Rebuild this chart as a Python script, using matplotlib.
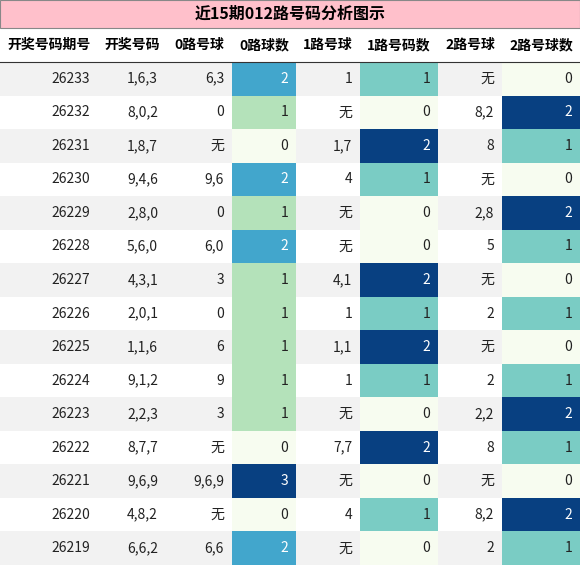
import matplotlib
matplotlib.use("Agg")
import matplotlib.pyplot as plt
from matplotlib.patches import Rectangle
from matplotlib import cm
from matplotlib.colors import Normalize

plt.rcParams['font.family'] = ['Noto Sans CJK SC', 'DejaVu Sans']

title = "近15期012路号码分析图示"
headers = ["开奖号码期号", "开奖号码", "0路号球", "0路球数", "1路号球", "1路号码数", "2路号球", "2路号球数"]
periods = ["26233","26232","26231","26230","26229","26228","26227","26226","26225","26224","26223","26222","26221","26220","26219"]
draws = ["1,6,3","8,0,2","1,8,7","9,4,6","2,8,0","5,6,0","4,3,1","2,0,1","1,1,6","9,1,2","2,2,3","8,7,7","9,6,9","4,8,2","6,6,2"]
r0 = ["6,3","0","无","9,6","0","6,0","3","0","6","9","3","无","9,6,9","无","6,6"]
c0 = [2,1,0,2,1,2,1,1,1,1,1,0,3,0,2]
r1 = ["1","无","1,7","4","无","无","4,1","1","1,1","1","无","7,7","无","4","无"]
c1 = [1,0,2,1,0,0,2,1,2,1,0,2,0,1,0]
r2 = ["无","8,2","8","无","2,8","5","无","2","无","2","2,2","8","无","8,2","2"]
c2 = [0,2,1,0,2,1,0,1,0,1,2,1,0,2,1]

W, H = 580, 565
fig = plt.figure(figsize=(W/100, H/100), dpi=100)
ax = fig.add_axes([0, 0, 1, 1])
ax.set_xlim(0, W); ax.set_ylim(H, 0); ax.axis('off')

xs = [0, 98, 166, 232, 296, 360, 438, 502, 580]
title_h, head_h = 28, 34
row_h = (H - title_h - head_h) / len(periods)

ax.add_patch(Rectangle((0, 0), W, title_h, facecolor='#FFC0CB', edgecolor='#888888', lw=0.8))
ax.text(W/2, title_h/2, title, ha='center', va='center', fontsize=11.5, fontweight='bold')
for i, h in enumerate(headers):
    ax.text((xs[i]+xs[i+1])/2, title_h + head_h/2, h, ha='center', va='center', fontsize=10, fontweight='bold')
ax.plot([0, W], [title_h+head_h]*2, color='#333333', lw=0.8)

cmap = cm.get_cmap('GnBu')
cols = [periods, draws, r0, c0, r1, c1, r2, c2]
for j, col in enumerate(cols):
    numeric = j in (3, 5, 7)
    if numeric:
        norm = Normalize(min(col), max(col))
    for i, v in enumerate(col):
        y0 = title_h + head_h + i*row_h
        fc = '#ffffff' if i % 2 else '#f2f2f2'
        tc = '#222222'
        if numeric:
            rgba = cmap(norm(v))
            fc = rgba
            lum = 0.299*rgba[0]+0.587*rgba[1]+0.114*rgba[2]
            tc = 'white' if lum < 0.6 else '#222222'
        ax.add_patch(Rectangle((xs[j], y0), xs[j+1]-xs[j], row_h, facecolor=fc, edgecolor='none'))
        ax.text(xs[j+1]-8, y0+row_h/2, str(v), ha='right', va='center', fontsize=10, color=tc)

fig.savefig("out.png", dpi=100)
